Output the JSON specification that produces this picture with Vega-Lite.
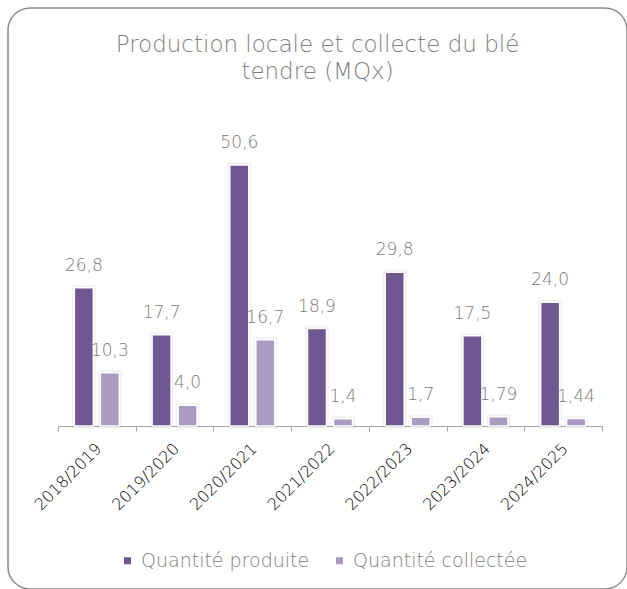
{
  "$schema": "https://vega.github.io/schema/vega-lite/v6.json",
  "width": 619,
  "height": 581,
  "padding": {"left": 8, "top": 8, "right": 0, "bottom": 0},
  "background": "white",
  "config": {
    "view": {"stroke": "#8c8c8c", "strokeWidth": 1.5, "cornerRadius": 22},
    "font": "DejaVu Sans"
  },
  "title": {
    "text": ["Production locale et collecte du blé", "tendre (MQx)"],
    "anchor": "middle",
    "offset": -76,
    "fontSize": 23,
    "fontWeight": 200,
    "color": "#808080",
    "lineHeight": 27,
    "font": "DejaVu Sans"
  },
  "data": {
    "values": [
      {"season": "2018/2019", "type": "Quantité produite", "value": 26.8, "label": "26,8"},
      {"season": "2018/2019", "type": "Quantité collectée", "value": 10.3, "label": "10,3"},
      {"season": "2019/2020", "type": "Quantité produite", "value": 17.7, "label": "17,7"},
      {"season": "2019/2020", "type": "Quantité collectée", "value": 4.0, "label": "4,0"},
      {"season": "2020/2021", "type": "Quantité produite", "value": 50.6, "label": "50,6"},
      {"season": "2020/2021", "type": "Quantité collectée", "value": 16.7, "label": "16,7"},
      {"season": "2021/2022", "type": "Quantité produite", "value": 18.9, "label": "18,9"},
      {"season": "2021/2022", "type": "Quantité collectée", "value": 1.4, "label": "1,4"},
      {"season": "2022/2023", "type": "Quantité produite", "value": 29.8, "label": "29,8"},
      {"season": "2022/2023", "type": "Quantité collectée", "value": 1.7, "label": "1,7"},
      {"season": "2023/2024", "type": "Quantité produite", "value": 17.5, "label": "17,5"},
      {"season": "2023/2024", "type": "Quantité collectée", "value": 1.79, "label": "1,79"},
      {"season": "2024/2025", "type": "Quantité produite", "value": 24.0, "label": "24,0"},
      {"season": "2024/2025", "type": "Quantité collectée", "value": 1.44, "label": "1,44"}
    ]
  },
  "encoding": {
    "x": {
      "field": "season",
      "type": "nominal",
      "sort": null,
      "scale": {"range": [50, 594], "paddingInner": 0, "paddingOuter": 0},
      "axis": {
        "title": null,
        "labelAngle": -45,
        "offset": -163,
        "tickBand": "extent",
        "domainColor": "#a6a6a6",
        "tickColor": "#a6a6a6",
        "tickSize": 5,
        "labelFontSize": 16,
        "labelFont": "DejaVu Sans",
        "labelFontWeight": 300,
        "labelColor": "#000000",
        "labelPadding": 9,
        "labelOffset": -4
      }
    },
    "xOffset": {
      "field": "type",
      "type": "nominal",
      "sort": ["Quantité produite", "Quantité collectée"],
      "scale": {"paddingInner": 0.27, "paddingOuter": 0.629}
    },
    "y": {
      "field": "value",
      "type": "quantitative",
      "scale": {"domain": [0, 60], "range": [418, 108.5]},
      "axis": null
    }
  },
  "layer": [
    {
      "mark": {"type": "bar", "stroke": "#000000", "strokeOpacity": 0.05, "strokeWidth": 5, "fillOpacity": 0},
      "encoding": {}
    },
    {
      "mark": {"type": "bar", "stroke": "white", "strokeWidth": 1.5},
      "encoding": {
        "color": {
          "field": "type",
          "type": "nominal",
          "sort": ["Quantité produite", "Quantité collectée"],
          "scale": {"domain": ["Quantité produite", "Quantité collectée"], "range": ["#6F5791", "#A99BC1"]},
          "legend": {
            "title": null,
            "orient": "none",
            "legendX": 110,
            "legendY": 543,
            "direction": "horizontal",
            "symbolType": "square",
            "symbolSize": 49,
            "symbolStrokeWidth": 0,
            "labelFontSize": 19,
            "labelFont": "DejaVu Sans",
            "labelFontWeight": 200,
            "labelColor": "#808080",
            "labelLimit": 400,
            "columnPadding": 20,
            "labelOffset": 4
          }
        }
      }
    },
    {
      "mark": {"type": "text", "dy": -17, "baseline": "alphabetic", "fontSize": 17, "fontWeight": 200, "color": "#7a7a7a", "font": "DejaVu Sans"},
      "encoding": {"text": {"field": "label"}}
    }
  ]
}
